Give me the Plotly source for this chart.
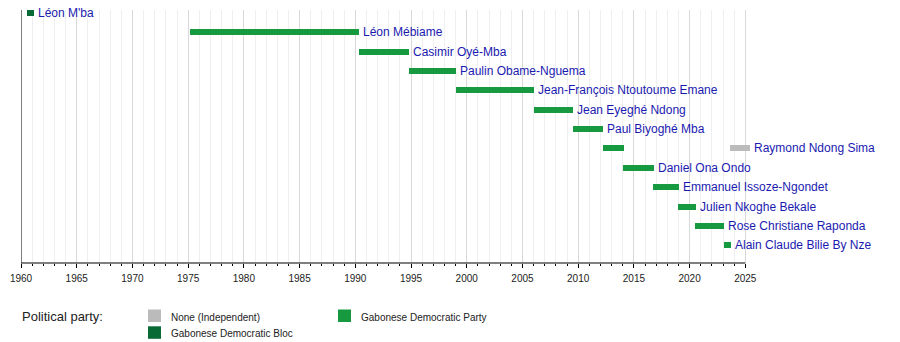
import plotly.graph_objects as go

# ---- data ----
pm_names = [
    "Léon M'ba",
    "Léon Mébiame",
    "Casimir Oyé-Mba",
    "Paulin Obame-Nguema",
    "Jean-François Ntoutoume Emane",
    "Jean Eyeghé Ndong",
    "Paul Biyoghé Mba",
    "Raymond Ndong Sima",
    "Daniel Ona Ondo",
    "Emmanuel Issoze-Ngondet",
    "Julien Nkoghe Bekale",
    "Rose Christiane Raponda",
    "Alain Claude Bilie By Nze",
]

# each term: row index (into pm_names), start year, end year, party
term_row = [0, 1, 2, 3, 4, 5, 6, 7, 8, 9, 10, 11, 12, 7]
term_start = [1960.55, 1975.2, 1990.3, 1994.8, 1999.0, 2006.0, 2009.5,
              2012.2, 2014.05, 2016.75, 2019.0, 2020.5, 2023.05, 2023.63]
term_end = [1961.15, 1990.37, 1994.83, 1999.05, 2006.08, 2009.55, 2012.2,
            2014.1, 2016.8, 2019.05, 2020.55, 2023.1, 2023.7, 2025.42]
term_party = ["BDG", "PDG", "PDG", "PDG", "PDG", "PDG", "PDG",
              "PDG", "PDG", "PDG", "PDG", "PDG", "PDG", "IND"]

party_keys = ["IND", "BDG", "PDG"]
party_labels = ["None (Independent)", "Gabonese Democratic Bloc", "Gabonese Democratic Party"]
party_colors = {"IND": "#bbbbbb", "BDG": "#096a36", "PDG": "#179a3f"}

x_start, x_end, x_view_end = 1960, 2025, 2025.6
major_step, minor_step = 5, 1

# ---- figure ----
FONT = "Liberation Sans, Arial, Helvetica, sans-serif"
TEXT_BLUE = "#1a1ab0"

fig = go.Figure()

fig.add_trace(go.Bar(
    orientation="h",
    y=term_row,
    base=term_start,
    x=[e - s for s, e in zip(term_start, term_end)],
    width=0.31,
    marker=dict(color=[party_colors[p] for p in term_party], line=dict(width=0)),
    hoverinfo="skip",
    showlegend=False,
))

# name labels after the last term of each row
for i, name in enumerate(pm_names):
    last_end = max(e for r, e in zip(term_row, term_end) if r == i)
    fig.add_annotation(
        x=last_end, y=i, xref="x", yref="y",
        text=name, showarrow=False, xanchor="left", yanchor="middle",
        xshift=2, font=dict(family=FONT, size=12, color=TEXT_BLUE),
    )

# axis lines (left and bottom) drawn over the data span only
fig.add_shape(type="line", xref="x", yref="paper", x0=x_start, x1=x_start, y0=0, y1=1,
              line=dict(color="black", width=1), layer="above")
fig.add_shape(type="line", xref="x", yref="paper", x0=x_start, x1=x_end, y0=0, y1=0,
              line=dict(color="black", width=1), layer="above")

# ---- legend (custom) ----
L, T, PW, PH = 21, 10, 731, 253


def px(xp):
    return (xp - L) / PW


def py(yp):
    return (T + PH - yp) / PH


fig.add_annotation(x=px(20), y=py(316), xref="paper", yref="paper", text="Political party:",
                   showarrow=False, xanchor="left", yanchor="middle",
                   font=dict(family=FONT, size=13, color="#222222"))

legend_pos = {"IND": (148, 309.5), "BDG": (148, 326.3), "PDG": (338, 309.5)}
for key, lab in zip(party_keys, party_labels):
    lx, ly = legend_pos[key]
    fig.add_shape(type="rect", xref="paper", yref="paper",
                  x0=px(lx), x1=px(lx + 13), y0=py(ly + 12.5), y1=py(ly),
                  fillcolor=party_colors[key], line=dict(width=0))
    fig.add_annotation(x=px(lx + 21), y=py(ly + 7.5), xref="paper", yref="paper", text=lab,
                       showarrow=False, xanchor="left", yanchor="middle",
                       font=dict(family=FONT, size=10, color="#222222"))

fig.update_layout(
    width=900, height=342,
    margin=dict(l=L, r=900 - L - PW, t=T, b=342 - T - PH, pad=0),
    paper_bgcolor="white", plot_bgcolor="white",
    bargap=0,
    xaxis=dict(
        range=[x_start, x_view_end],
        tickmode="linear", tick0=x_start, dtick=major_step,
        showgrid=True, gridcolor="#d9d9d9", gridwidth=1,
        ticks="outside", ticklen=4, tickcolor="black", tickwidth=1,
        ticklabelstandoff=2,
        tickfont=dict(family=FONT, size=10, color="#222222"),
        showline=False, zeroline=False,
        minor=dict(dtick=minor_step, tick0=x_start, showgrid=True, gridcolor="#efefef",
                   ticks="outside", ticklen=2, tickcolor="black", tickwidth=1),
        fixedrange=True,
    ),
    yaxis=dict(
        range=[12.92, -0.155],
        showgrid=False, showticklabels=False, zeroline=False, showline=False,
        ticks="", fixedrange=True,
    ),
)

fig.write_html("out.html")
